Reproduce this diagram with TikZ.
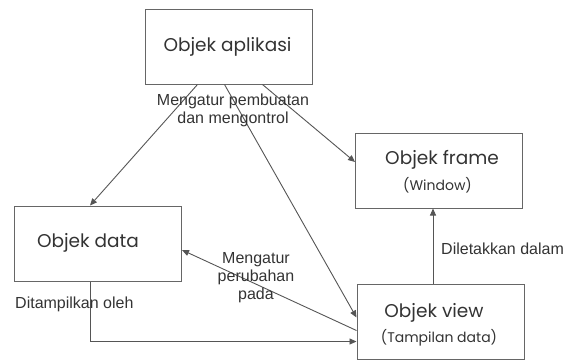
\documentclass[tikz,border=0pt]{standalone}
\usepackage{fontspec}
\setmainfont{Liberation Sans}
\newfontfamily\boxfont{Poppins}
\usetikzlibrary{arrows.meta,calc}
\definecolor{linec}{HTML}{555555}
\definecolor{boxc}{HTML}{666666}
\definecolor{textc}{HTML}{333333}
\tikzset{
  objbox/.style={draw=boxc, line width=1pt, minimum width=167pt, minimum height=75pt, inner sep=0pt},
  title/.style={font=\boxfont\fontsize{18.5}{20}\selectfont, text=textc, inner sep=0pt},
  subtitle/.style={font=\boxfont\fontsize{14}{16}\selectfont, text=textc, inner sep=0pt},
  lbl/.style={font=\fontsize{16}{18}\selectfont, text=textc, align=center, inner sep=0pt},
  conn/.style={draw=linec, line width=0.9pt, -{Triangle[length=7pt,width=6pt]}},
}
\begin{document}
\begin{tikzpicture}[x=1pt,y=-1pt]
\useasboundingbox (0,0) rectangle (570,360);
% boxes
\node[objbox] (app) at (228.5,46.5) {};
\node[objbox] (data) at (98,243.5) {};
\node[objbox] (frame) at (439,170.5) {};
\node[objbox] (view) at (440.5,321.5) {};
% box texts
\node[title] (tapp) at (227.5,47) {Objek aplikasi};
\node[title] (tdata) at (88,243) {Objek data};
\node[title] (tframe) at (442,160) {Objek frame};
\node[subtitle] (tframe2) at (437.5,185) {(Window)};
\node[title] (tview) at (434,313) {Objek view};
\node[subtitle] (tview2) at (439,338) {(Tampilan data)};
% connector endpoints
\coordinate (a1) at ($(app.south west)+(53,0)$);
\coordinate (a2) at ($(app.south west)+(80,0)$);
\coordinate (a3) at ($(app.south west)+(118,0)$);
\coordinate (d1) at ($(data.north)+(-8,0)$);
\coordinate (d2) at ($(data.east)+(0,6.5)$);
\coordinate (d3) at ($(data.south)+(-8,0)$);
\coordinate (f1) at ($(frame.west)+(0,-8.5)$);
\coordinate (f2) at ($(frame.south)+(-6,0)$);
\coordinate (v1) at ($(view.north west)+(0,34)$);
\coordinate (v2) at ($(view.north west)+(0,47)$);
\coordinate (v3) at ($(view.north west)+(0,58)$);
\coordinate (v4) at ($(view.north)+(-7.5,0)$);
% connectors
\draw[conn] (a1) -- (d1);
\draw[conn] (a2) -- (v1);
\draw[conn] (a3) -- (f1);
\draw[conn] (v2) -- (d2);
\draw[conn] (d3) |- (v3);
\draw[conn] (v4) -- (f2);
% labels
\node[lbl] (l1) at (233,110) {Mengatur pembuatan\\dan mengontrol};
\node[lbl] (l2) at (256,278) {Mengatur\\perubahan\\pada};
\node[lbl, anchor=west] (l3) at (15,304) {Ditampilkan oleh};
\node[lbl, anchor=west] (l4) at (441,249) {Diletakkan dalam};
\end{tikzpicture}
\end{document}
